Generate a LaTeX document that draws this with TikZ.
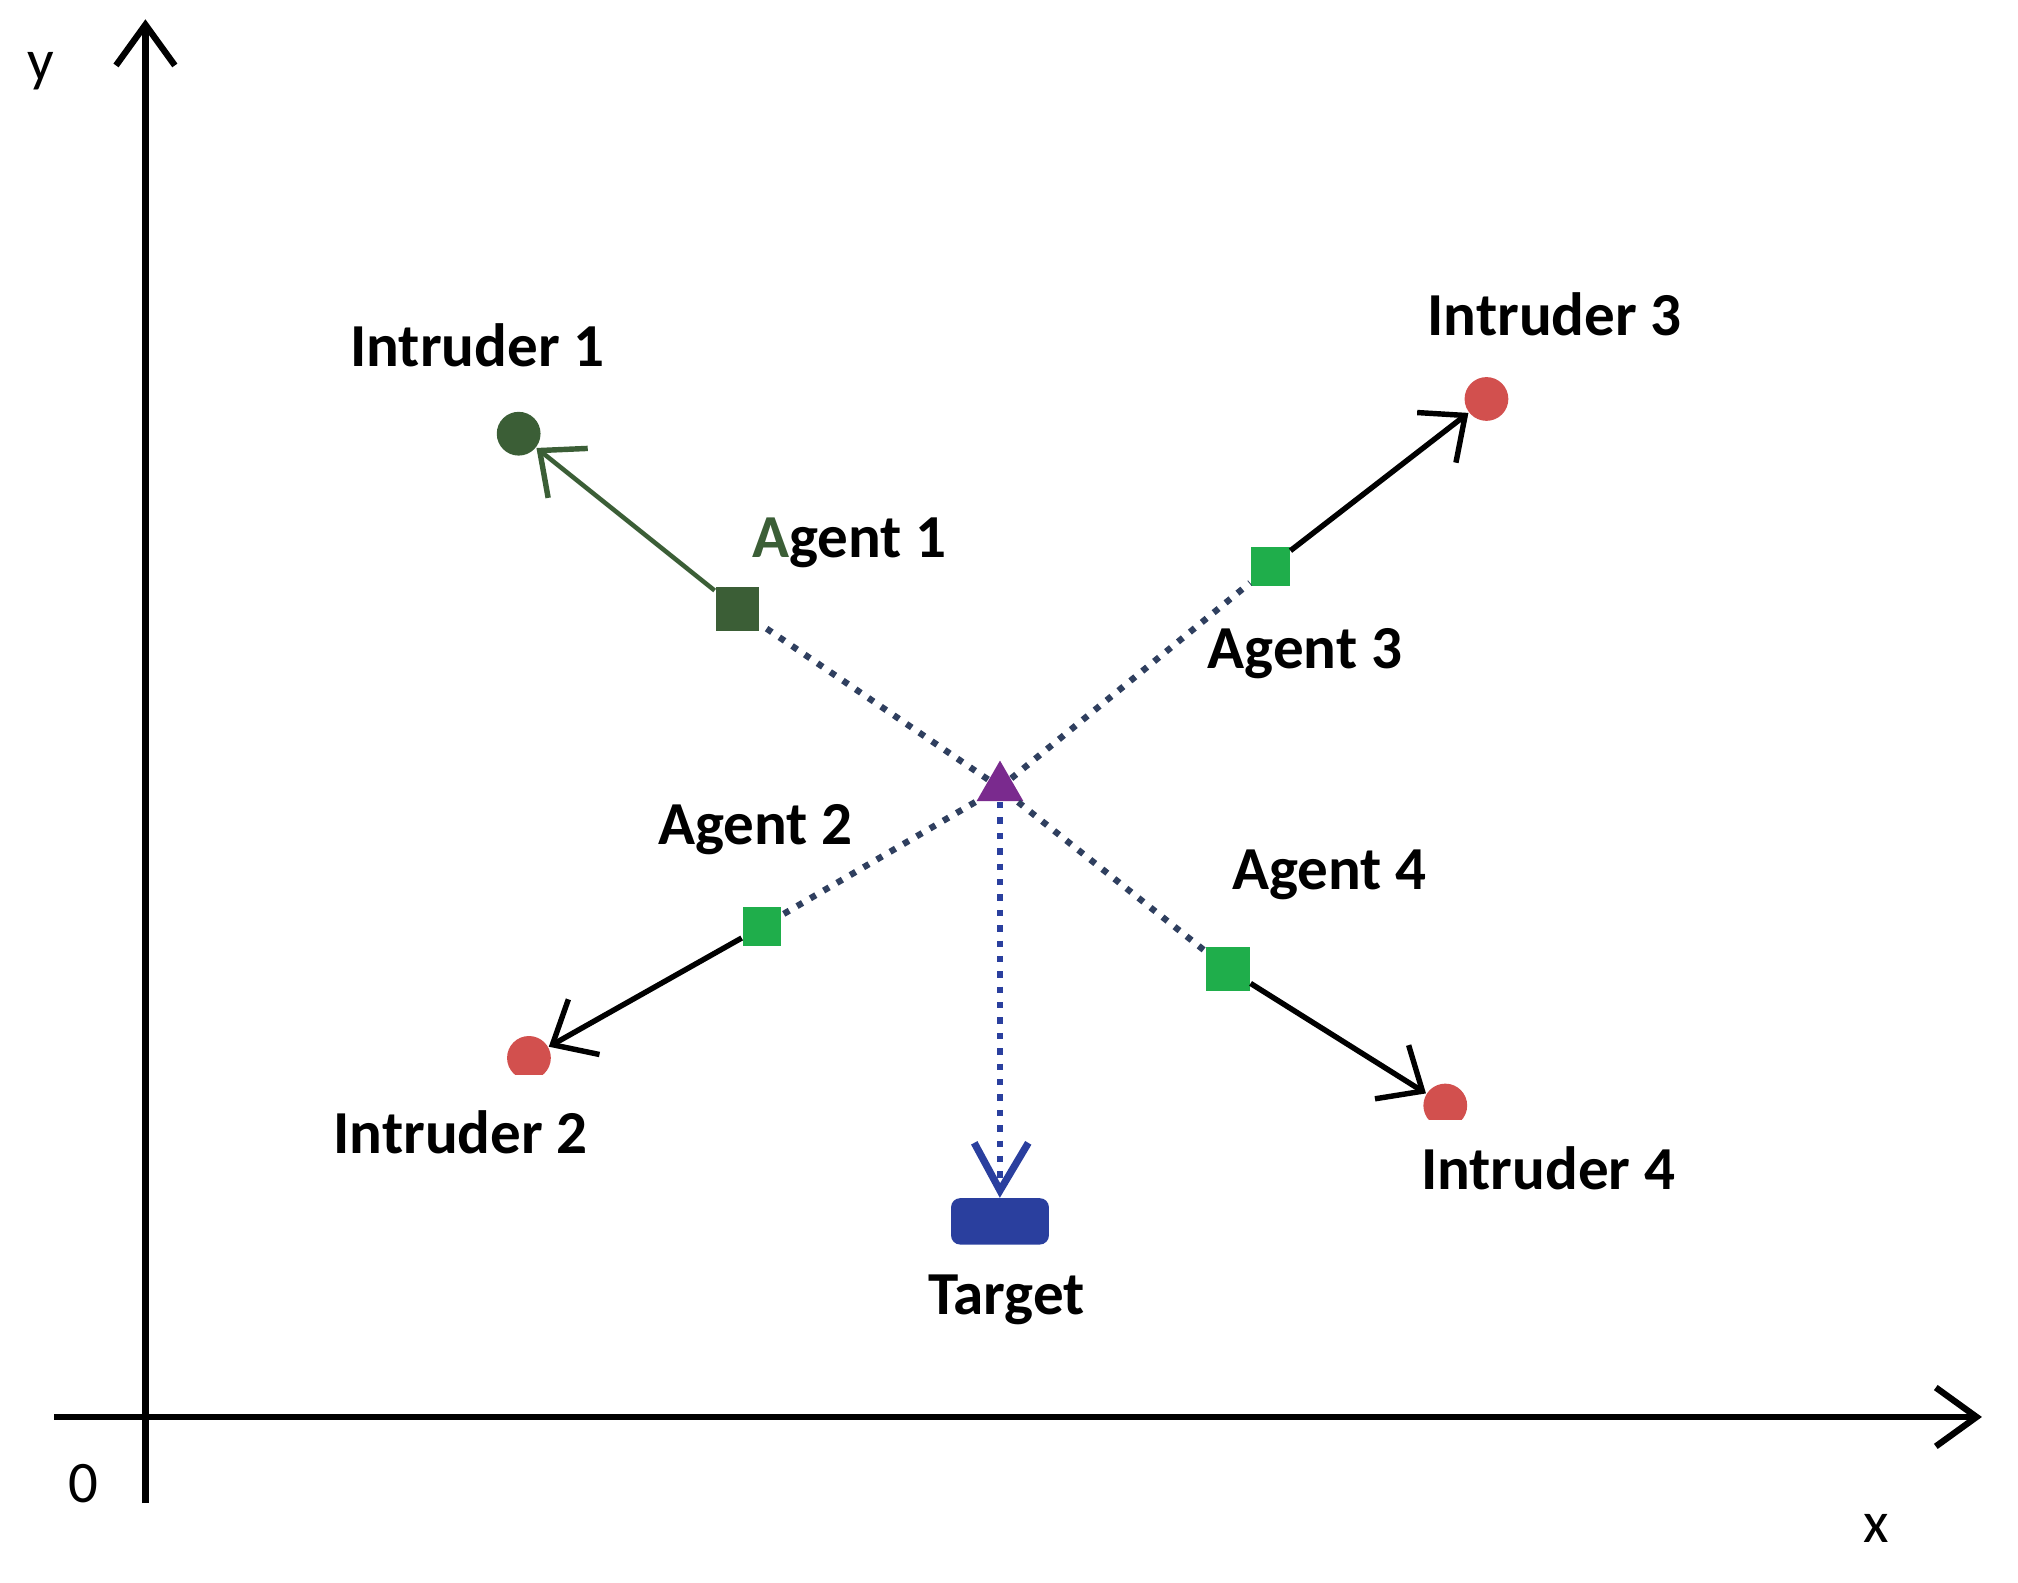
\documentclass[tikz,border=0pt]{standalone}
\usepackage{fontspec}
\setmainfont{Carlito}
\usetikzlibrary{arrows.meta,shapes.geometric}
\definecolor{dg}{HTML}{3B5E36}
\definecolor{lg}{HTML}{1FAE4B}
\definecolor{rd}{HTML}{D2504E}
\definecolor{pu}{HTML}{7A2A8E}
\definecolor{bl}{HTML}{2A3F9E}
\definecolor{nv}{HTML}{2F3F5F}
\begin{document}
\begin{tikzpicture}[x=0.01cm,y=-0.01cm,
  lab/.style={font=\fontsize{13.5}{15}\selectfont\bfseries, text=black},
  axl/.style={font=\fontsize{13}{15}\selectfont, text=black},
  ag/.style={rectangle, minimum size=0.3cm, inner sep=0pt, fill=lg},
  intr/.style={circle, minimum size=0.34cm, inner sep=0pt, fill=rd},
  mv/.style={line width=1.2pt, -{Straight Barb[length=8pt,width=14pt,line width=1.2pt]}},
  axa/.style={line width=1.4pt, -{Straight Barb[length=9pt,width=13pt,line width=1.4pt]}},
  dot/.style={nv, line width=1.4pt, dotted}]
\useasboundingbox (0,0) rectangle (1568,1230);
% axes
\coordinate (ys) at (113,1168); \coordinate (ye) at (113,15);
\coordinate (xs) at (42,1101); \coordinate (xe) at (1540,1101);
\draw[axa] (ys) -- (ye);
\draw[axa] (xs) -- (xe);
\node[axl] (ly) at (32,55) {y};
\node[axl] (lx) at (1458,1188) {x};
\node[axl] (l0) at (65,1153) {0};
% center
\node[regular polygon, regular polygon sides=3, fill=pu, minimum size=0.42cm, inner sep=0pt] (c) at (777,612) {};
% agents
\node[ag, fill=dg, minimum size=0.34cm] (a1) at (573,473) {};
\node[ag] (a2) at (592,720) {};
\node[ag] (a3) at (987,440) {};
\node[ag, minimum size=0.34cm] (a4) at (954,753) {};
\node[intr, fill=dg] (i1) at (403,337) {};
\node[intr] (i2) at (411,822) {};
\node[intr] (i3) at (1155,310) {};
\node[intr] (i4) at (1123,859) {};
\fill[white] (390,835) rectangle (435,850);
\fill[white] (1100,870) rectangle (1145,885);
\node[rectangle, rounded corners=2pt, fill=bl, minimum width=0.76cm, minimum height=0.36cm, inner sep=0pt] (t) at (777,949) {};
% dotted
\foreach \a in {a1,a2,a3,a4} \draw[dot] (c) -- (\a);
\draw[bl, line width=1.4pt, dotted] (c) -- (777,925);
\coordinate (tv) at (777,925);
\draw[bl, line width=1.6pt] (757,888) -- (tv) -- (799,888);
% movement
\draw[mv, dg, line width=1pt] (a1) -- (i1);
\draw[mv] (a2) -- (i2);
\draw[mv] (a3) -- (i3);
\draw[mv] (a4) -- (i4);
% labels
\node[lab] (li1) at (371,268) {Intruder 1};
\node[lab] (li2) at (358,880) {Intruder 2};
\node[lab] (li3) at (1208,244) {Intruder 3};
\node[lab] (li4) at (1203,908) {Intruder 4};
\node[lab] (la1) at (660,422) {\textcolor{dg}{A}gent 1};
\node[lab] (la2) at (587,645) {Agent 2};
\node[lab] (la3) at (1014,508) {Agent 3};
\node[lab] (la4) at (1033,680) {Agent 4};
\node[lab] (lt) at (782,1010) {Target};
\end{tikzpicture}
\end{document}
